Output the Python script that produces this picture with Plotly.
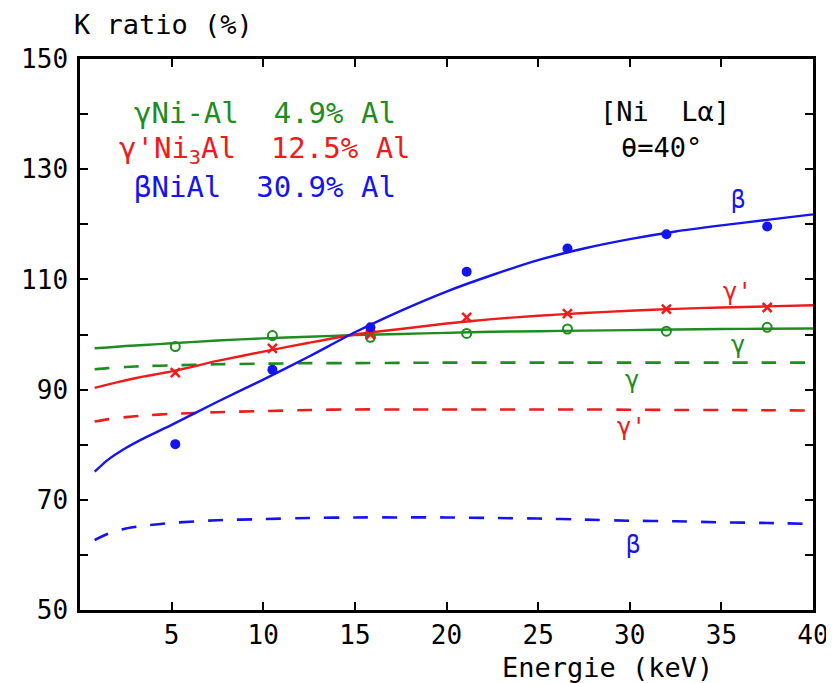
import plotly.graph_objects as go

# ---- data ----
energy_fit = [0.8, 1.5, 2.5, 3.5, 5, 7.5, 10, 12.5, 15, 17.5, 20, 22.5, 25, 27.5, 30, 32.5, 35, 37.5, 40]
gamma_calc = [97.5, 97.65, 97.9, 98.1, 98.4, 98.9, 99.3, 99.6, 99.9, 100.1, 100.3, 100.5, 100.6, 100.7, 100.8, 100.9, 101.0, 101.05, 101.1]
gprime_calc = [90.3, 90.9, 91.7, 92.4, 93.3, 95.2, 96.9, 98.5, 100.0, 101.0, 102.0, 102.8, 103.4, 103.9, 104.3, 104.65, 104.9, 105.1, 105.3]
beta_calc = [75.1, 77.2, 79.4, 81.2, 83.6, 87.8, 91.8, 96.0, 100.4, 104.3, 107.8, 110.8, 113.5, 115.6, 117.3, 118.7, 119.8, 120.8, 121.8]

gamma_dash = [93.7, 93.9, 94.1, 94.25, 94.4, 94.6, 94.7, 94.8, 94.8, 94.85, 94.9, 94.9, 94.9, 94.9, 94.9, 94.9, 94.9, 94.9, 94.9]
gprime_dash = [84.2, 84.6, 85.0, 85.3, 85.6, 85.9, 86.1, 86.3, 86.4, 86.4, 86.4, 86.4, 86.4, 86.4, 86.35, 86.3, 86.3, 86.25, 86.2]
beta_dash = [62.7, 63.8, 64.8, 65.3, 65.8, 66.3, 66.5, 66.7, 66.8, 66.8, 66.8, 66.7, 66.6, 66.4, 66.2, 66.1, 65.9, 65.8, 65.6]

energy_meas = [5.2, 10.5, 15.85, 21.1, 26.6, 32.0, 37.5]
gamma_meas = [97.8, 99.8, 99.5, 100.2, 101.0, 100.6, 101.3]
gprime_meas = [93.1, 97.5, 100.0, 103.1, 103.8, 104.6, 104.9]
beta_meas = [80.1, 93.6, 101.3, 111.4, 115.6, 118.2, 119.6]

x_ticks = [5, 10, 15, 20, 25, 30, 35, 40]
y_ticks = [50, 70, 90, 110, 130, 150]
y_minor = [60, 80, 100, 120, 140]

GREEN = "#1e8c1e"
RED = "#ec1c1c"
BLUE = "#1414ee"
FONT = "DejaVu Sans Mono"

fig = go.Figure()

for y, c in [(gamma_dash, GREEN), (gprime_dash, RED), (beta_dash, BLUE)]:
    fig.add_trace(go.Scatter(x=energy_fit, y=y, mode="lines",
                             line=dict(color=c, width=2.6, dash="15px,14px", shape="spline", smoothing=0.6),
                             hoverinfo="skip"))
for y, c in [(gamma_calc, GREEN), (gprime_calc, RED), (beta_calc, BLUE)]:
    fig.add_trace(go.Scatter(x=energy_fit, y=y, mode="lines",
                             line=dict(color=c, width=2.4, shape="spline", smoothing=0.6),
                             hoverinfo="skip"))

fig.add_trace(go.Scatter(x=energy_meas, y=gamma_meas, mode="markers",
                         marker=dict(symbol="circle-open", size=9, color=GREEN, line=dict(width=2, color=GREEN))))
fig.add_trace(go.Scatter(x=energy_meas, y=gprime_meas, mode="markers",
                         marker=dict(symbol="x-thin", size=9, color=RED, line=dict(width=2.5, color=RED))))
fig.add_trace(go.Scatter(x=energy_meas, y=beta_meas, mode="markers",
                         marker=dict(symbol="circle", size=10, color=BLUE)))

ann = []
def add(text, x, y, color="black", size=26, xref="x", yref="y", xanchor="center", yanchor="middle"):
    ann.append(dict(text=text, x=x, y=y, xref=xref, yref=yref, showarrow=False,
                    xanchor=xanchor, yanchor=yanchor,
                    font=dict(family=FONT, size=size, color=color)))

add("γNi-Al  4.9% Al", 10.1, 140.2, GREEN, 29)
add("γ'Ni<sub>3</sub>Al  12.5% Al", 10.1, 133.5, RED, 29)
add("βNiAl  30.9% Al", 10.1, 126.8, BLUE, 29)
add("[Ni  Lα]", 31.9, 140.4, "black", 27)
add("θ=40°", 31.75, 134.0, "black", 27)

add("β", 35.9, 124.4, BLUE, 24)
add("γ'", 35.9, 107.7, RED, 24)
add("γ", 35.9, 98.1, GREEN, 24)
add("γ", 30.1, 91.7, GREEN, 24)
add("γ'", 30.1, 83.2, RED, 24)
add("β", 30.2, 61.8, BLUE, 24)

add("K ratio (%)", -0.011, 1.063, "black", 27, xref="paper", yref="paper", xanchor="left")
add("Energie (keV)", 0.719, -0.104, "black", 27, xref="paper", yref="paper")

axis_common = dict(showgrid=False, zeroline=False, showline=True, linecolor="black", linewidth=2.5,
                   mirror="ticks", ticks="inside", ticklen=8, tickwidth=2, tickcolor="black",
                   tickfont=dict(family=FONT, size=26), automargin=False)

# the page body adds an 8px offset, so margins are shifted to land the plot box at 80..813 x 59..610
fig.update_layout(
    width=834, height=683,
    margin=dict(l=72, r=29, t=51, b=81, autoexpand=False),
    paper_bgcolor="white", plot_bgcolor="white",
    showlegend=False,
    annotations=ann,
    font=dict(family=FONT, size=26, color="black"),
    xaxis=dict(range=[0, 40], tickvals=x_ticks, ticktext=[str(v) for v in x_ticks], **axis_common),
    yaxis=dict(range=[50, 150], tickvals=y_ticks, ticktext=[str(v) for v in y_ticks],
               ticklabelstandoff=4,
               minor=dict(tickvals=y_minor, ticks="inside", ticklen=8, tickwidth=2, tickcolor="black"),
               **axis_common),
)

fig.write_html("out.html")
